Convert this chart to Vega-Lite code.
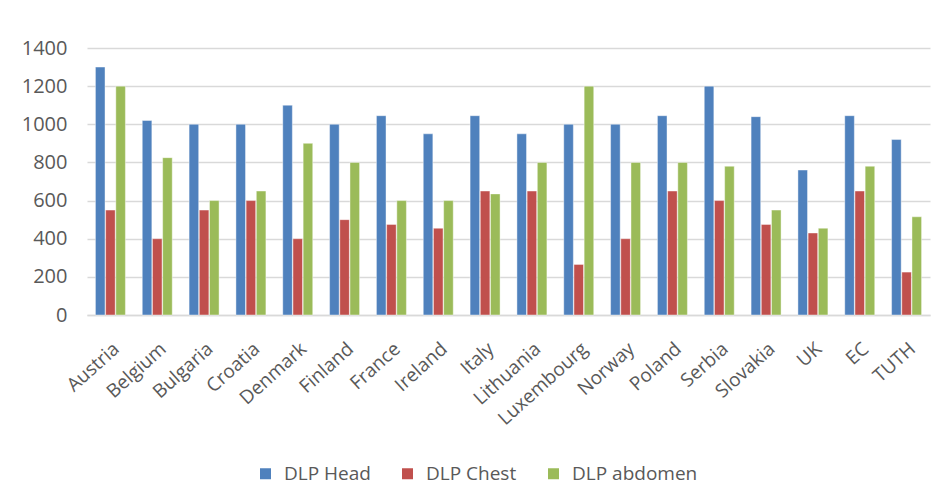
{
  "$schema": "https://vega.github.io/schema/vega-lite/v6.json",
  "autosize": "none",
  "width": 843,
  "height": 267,
  "padding": {"left": 87, "top": 48, "right": 1, "bottom": 172},
  "background": "white",
  "config": {
    "font": "Open Sans",
    "view": {"stroke": null}
  },
  "data": {
    "values": [
      {"country": "Austria", "series": "DLP Head", "value": 1300},
      {"country": "Austria", "series": "DLP Chest", "value": 550},
      {"country": "Austria", "series": "DLP abdomen", "value": 1200},
      {"country": "Belgium", "series": "DLP Head", "value": 1020},
      {"country": "Belgium", "series": "DLP Chest", "value": 400},
      {"country": "Belgium", "series": "DLP abdomen", "value": 825},
      {"country": "Bulgaria", "series": "DLP Head", "value": 1000},
      {"country": "Bulgaria", "series": "DLP Chest", "value": 550},
      {"country": "Bulgaria", "series": "DLP abdomen", "value": 600},
      {"country": "Croatia", "series": "DLP Head", "value": 1000},
      {"country": "Croatia", "series": "DLP Chest", "value": 600},
      {"country": "Croatia", "series": "DLP abdomen", "value": 650},
      {"country": "Denmark", "series": "DLP Head", "value": 1100},
      {"country": "Denmark", "series": "DLP Chest", "value": 400},
      {"country": "Denmark", "series": "DLP abdomen", "value": 900},
      {"country": "Finland", "series": "DLP Head", "value": 1000},
      {"country": "Finland", "series": "DLP Chest", "value": 500},
      {"country": "Finland", "series": "DLP abdomen", "value": 800},
      {"country": "France", "series": "DLP Head", "value": 1045},
      {"country": "France", "series": "DLP Chest", "value": 475},
      {"country": "France", "series": "DLP abdomen", "value": 600},
      {"country": "Ireland", "series": "DLP Head", "value": 950},
      {"country": "Ireland", "series": "DLP Chest", "value": 455},
      {"country": "Ireland", "series": "DLP abdomen", "value": 600},
      {"country": "Italy", "series": "DLP Head", "value": 1045},
      {"country": "Italy", "series": "DLP Chest", "value": 650},
      {"country": "Italy", "series": "DLP abdomen", "value": 635},
      {"country": "Lithuania", "series": "DLP Head", "value": 950},
      {"country": "Lithuania", "series": "DLP Chest", "value": 650},
      {"country": "Lithuania", "series": "DLP abdomen", "value": 800},
      {"country": "Luxembourg", "series": "DLP Head", "value": 1000},
      {"country": "Luxembourg", "series": "DLP Chest", "value": 265},
      {"country": "Luxembourg", "series": "DLP abdomen", "value": 1200},
      {"country": "Norway", "series": "DLP Head", "value": 1000},
      {"country": "Norway", "series": "DLP Chest", "value": 400},
      {"country": "Norway", "series": "DLP abdomen", "value": 800},
      {"country": "Poland", "series": "DLP Head", "value": 1045},
      {"country": "Poland", "series": "DLP Chest", "value": 650},
      {"country": "Poland", "series": "DLP abdomen", "value": 800},
      {"country": "Serbia", "series": "DLP Head", "value": 1200},
      {"country": "Serbia", "series": "DLP Chest", "value": 600},
      {"country": "Serbia", "series": "DLP abdomen", "value": 780},
      {"country": "Slovakia", "series": "DLP Head", "value": 1040},
      {"country": "Slovakia", "series": "DLP Chest", "value": 475},
      {"country": "Slovakia", "series": "DLP abdomen", "value": 550},
      {"country": "UK", "series": "DLP Head", "value": 760},
      {"country": "UK", "series": "DLP Chest", "value": 430},
      {"country": "UK", "series": "DLP abdomen", "value": 455},
      {"country": "EC", "series": "DLP Head", "value": 1045},
      {"country": "EC", "series": "DLP Chest", "value": 650},
      {"country": "EC", "series": "DLP abdomen", "value": 780},
      {"country": "TUTH", "series": "DLP Head", "value": 920},
      {"country": "TUTH", "series": "DLP Chest", "value": 225},
      {"country": "TUTH", "series": "DLP abdomen", "value": 515}
    ]
  },
  "mark": {"type": "bar", "stroke": "white", "strokeWidth": 0.6, "strokeOpacity": 0.7},
  "encoding": {
    "x": {
      "field": "country",
      "type": "nominal",
      "sort": null,
      "title": null,
      "scale": {"paddingInner": 0.36, "paddingOuter": 0.18},
      "axis": {
        "labelAngle": -42,
        "labelAlign": "right",
        "labelBaseline": "top",
        "labelFont": "Open Sans",
        "labelFontSize": 19,
        "labelColor": "#595959",
        "ticks": false,
        "domainColor": "#D9D9D9",
        "domainWidth": 1.5,
        "labelPadding": 24,
        "labelDx": -5
      }
    },
    "xOffset": {
      "field": "series",
      "type": "nominal",
      "sort": ["DLP Head", "DLP Chest", "DLP abdomen"],
      "scale": {"paddingInner": 0.06}
    },
    "y": {
      "field": "value",
      "type": "quantitative",
      "title": null,
      "scale": {"domain": [0, 1400]},
      "axis": {
        "values": [0, 200, 400, 600, 800, 1000, 1200, 1400],
        "format": "d",
        "domain": false,
        "ticks": false,
        "labelFont": "Open Sans",
        "labelFontSize": 20,
        "labelColor": "#595959",
        "labelPadding": 20,
        "gridColor": "#D9D9D9",
        "gridWidth": 1.5
      }
    },
    "color": {
      "field": "series",
      "type": "nominal",
      "sort": ["DLP Head", "DLP Chest", "DLP abdomen"],
      "scale": {
        "domain": ["DLP Head", "DLP Chest", "DLP abdomen"],
        "range": ["#4F81BD", "#C0504D", "#9BBB59"]
      },
      "legend": {
        "title": null,
        "orient": "none",
        "direction": "horizontal",
        "legendX": 169,
        "legendY": 416,
        "symbolType": "square",
        "symbolSize": 121,
        "symbolStrokeWidth": 0,
        "labelFont": "Open Sans",
        "labelFontSize": 19,
        "labelColor": "#595959",
        "columnPadding": 27,
        "labelOffset": 9
      }
    }
  }
}
